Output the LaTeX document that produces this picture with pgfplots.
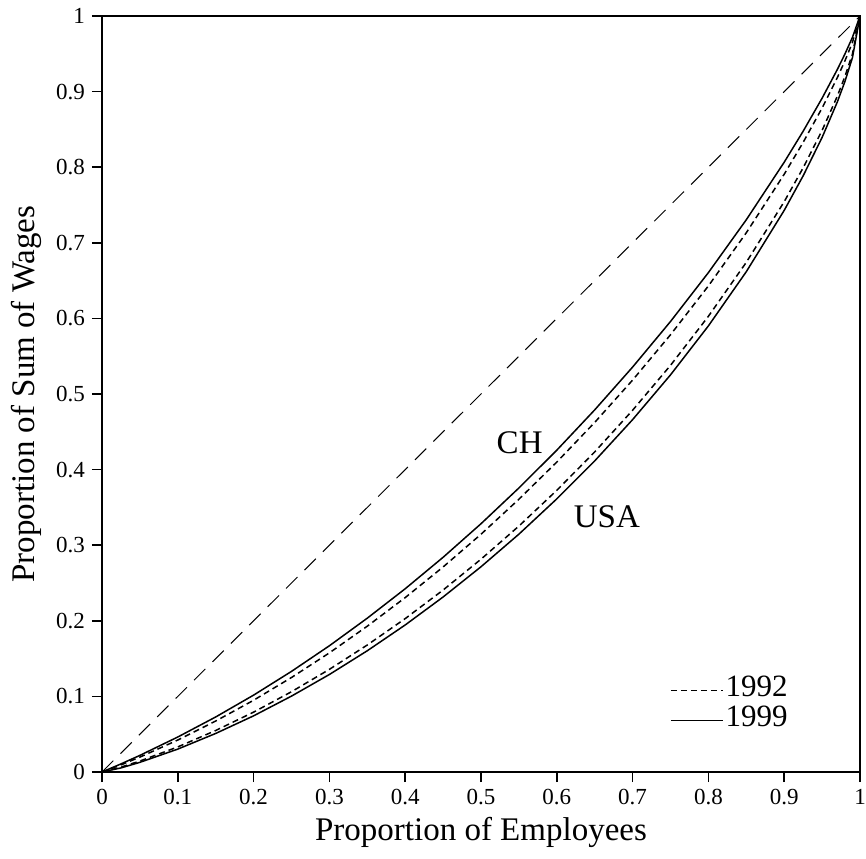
\documentclass[border=0pt]{standalone}
\usepackage{fontspec}
\setmainfont{Liberation Serif}
\usepackage{pgfplots}
\pgfplotsset{compat=1.18}

\begin{document}
\begin{tikzpicture}
\begin{axis}[
    scale only axis,
    width=379pt, height=378pt,
    xmin=0, xmax=1, ymin=0, ymax=1,
    xtick={0,0.1,0.2,0.3,0.4,0.5,0.6,0.7,0.8,0.9,1},
    ytick={0,0.1,0.2,0.3,0.4,0.5,0.6,0.7,0.8,0.9,1},
    tick pos=left,
    tick align=outside,
    major tick length=5pt,
    axis line style={line width=1pt},
    every tick/.style={line width=0.8pt, black},
    /pgf/number format/assume math mode=true,
    ticklabel style={font=\fontsize{11.5}{13}\selectfont},
    label style={font=\fontsize{16.5}{18}\selectfont},
    xlabel={Proportion of Employees},
    ylabel={Proportion of Sum of Wages},
    xlabel style={at={(axis description cs:0.5,-0.09)}, anchor=base},
    ylabel style={at={(axis description cs:-0.0897,0.5)}, anchor=base},
    legend image code/.code={\draw[#1] (0pt,-2.5pt) -- (26pt,-2.5pt);},
    legend style={draw=none, fill=none, at={(0.9077,0.0595)}, anchor=south east,
        font=\fontsize{15.5}{16}\selectfont, inner sep=0pt, row sep=4pt,
        nodes={inner sep=0pt, inner xsep=1pt, text height=11pt, text depth=0pt},
        cells={anchor=west}},
]
% equality line
\addplot[black, line width=0.5pt, dash pattern=on 8pt off 5pt, forget plot]
    coordinates {(0,0) (1,1)};
% CH 1992
\addplot[black, line width=0.75pt, dash pattern=on 3pt off 2pt] coordinates {
(0,0) (0.025,0.0094) (0.05,0.0197) (0.1,0.0423) (0.15,0.0674) (0.2,0.0949)
(0.25,0.1250) (0.3,0.1576) (0.35,0.1929) (0.4,0.2307) (0.45,0.2712) (0.5,0.3145)
(0.55,0.3608) (0.6,0.4100) (0.65,0.4624) (0.7,0.5184) (0.75,0.5784) (0.8,0.6430)
(0.85,0.7133) (0.9,0.7907) (0.925,0.8329) (0.95,0.8783) (0.97,0.9184)
(0.98,0.9404) (0.99,0.9650) (1,1)};
\addlegendentry{1992}
% CH 1999
\addplot[black, line width=0.75pt] coordinates {
(0,0) (0.025,0.0107) (0.05,0.0220) (0.1,0.0463) (0.15,0.0728) (0.2,0.1017)
(0.25,0.1331) (0.3,0.1670) (0.35,0.2035) (0.4,0.2424) (0.45,0.2840) (0.5,0.3284)
(0.55,0.3757) (0.6,0.4257) (0.65,0.4790) (0.7,0.5356) (0.75,0.5959) (0.8,0.6606)
(0.85,0.7305) (0.9,0.8066) (0.925,0.8476) (0.95,0.8913) (0.97,0.9291)
(0.98,0.9495) (0.99,0.9717) (1,1)};
\addlegendentry{1999}
% USA 1992
\addplot[black, line width=0.75pt, dash pattern=on 3pt off 2pt, forget plot] coordinates {
(0,0) (0.025,0.0064) (0.05,0.0145) (0.1,0.0332) (0.15,0.0549) (0.2,0.0792)
(0.25,0.1062) (0.3,0.1358) (0.35,0.1680) (0.4,0.2029) (0.45,0.2407) (0.5,0.2815)
(0.55,0.3253) (0.6,0.3726) (0.65,0.4234) (0.7,0.4785) (0.75,0.5379) (0.8,0.6028)
(0.85,0.6742) (0.9,0.7544) (0.925,0.7992) (0.95,0.8487) (0.97,0.8938)
(0.98,0.9197) (0.99,0.9496) (1,1)};
% USA 1999
\addplot[black, line width=0.75pt, forget plot] coordinates {
(0,0) (0.025,0.0054) (0.05,0.0128) (0.1,0.0303) (0.15,0.0510) (0.2,0.0743)
(0.25,0.1004) (0.3,0.1290) (0.35,0.1604) (0.4,0.1945) (0.45,0.2315) (0.5,0.2715)
(0.55,0.3146) (0.6,0.3613) (0.65,0.4115) (0.7,0.4661) (0.75,0.5253) (0.8,0.5901)
(0.85,0.6618) (0.9,0.7429) (0.925,0.7886) (0.95,0.8394) (0.97,0.8861)
(0.98,0.9131) (0.99,0.9448) (1,1)};
\node[font=\fontsize{16.5}{18}\selectfont] at (axis cs:0.551,0.435) {CH};
\node[font=\fontsize{16.5}{18}\selectfont] at (axis cs:0.666,0.337) {USA};
\end{axis}
\pgfresetboundingbox
\useasboundingbox (-51pt,-43pt) rectangle (382pt,386pt);
\end{tikzpicture}
\end{document}
